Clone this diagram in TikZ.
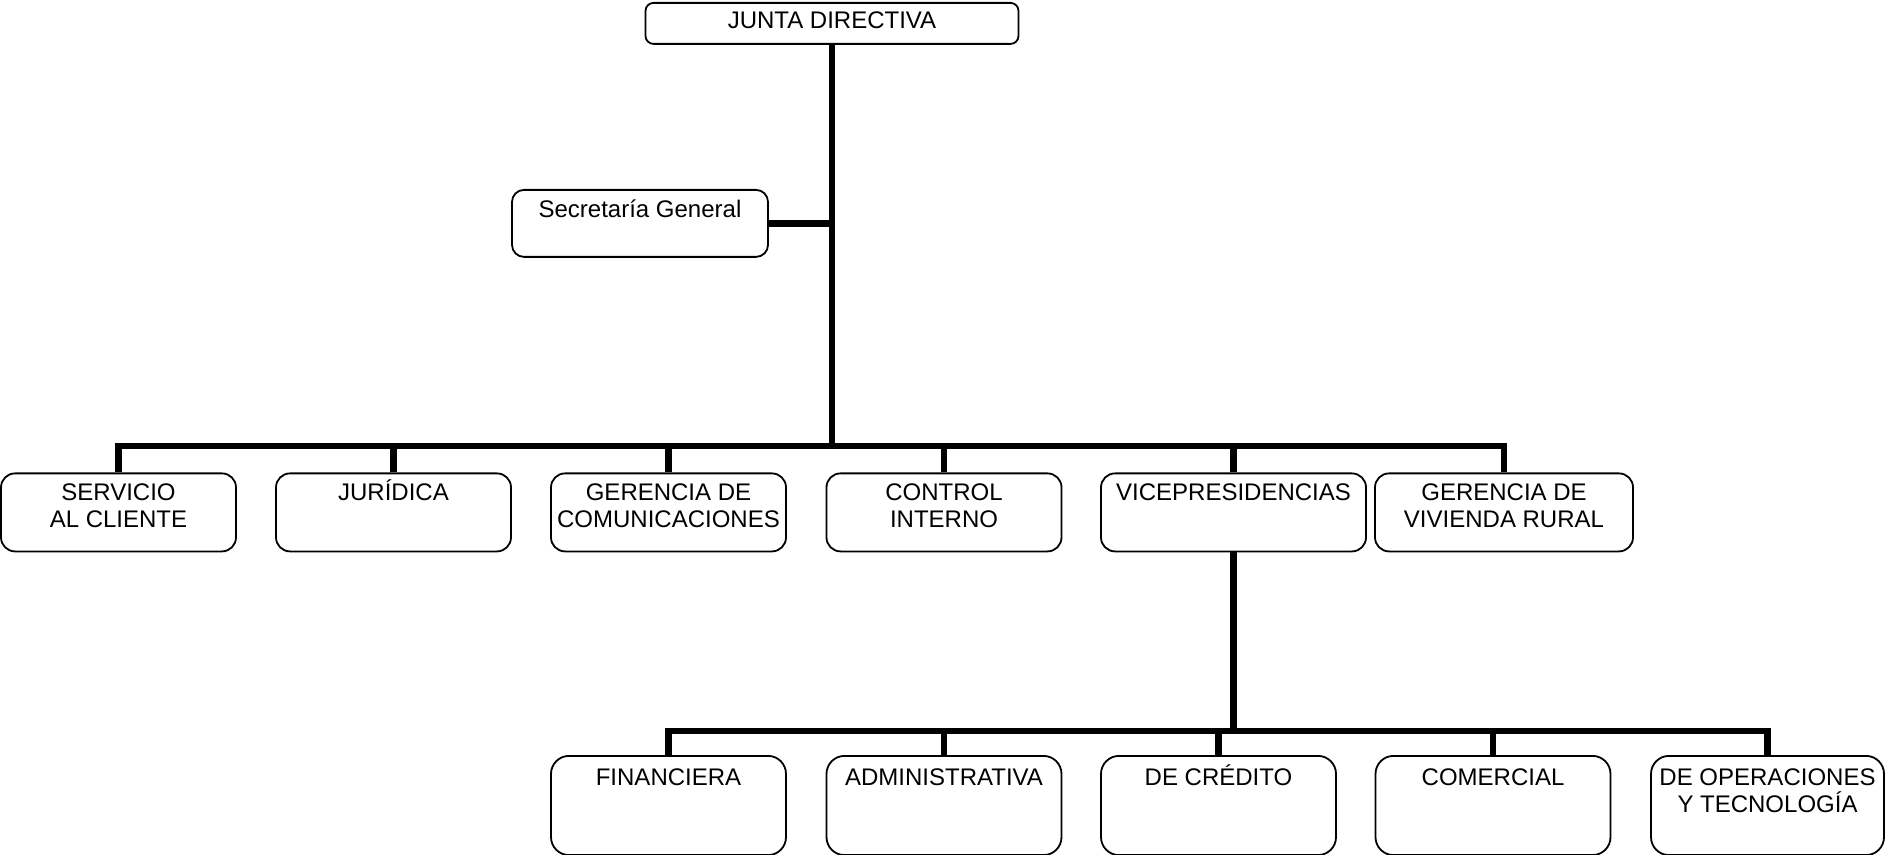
\documentclass[tikz,border=0pt]{standalone}
\usepackage{fontspec}
\setmainfont{Liberation Sans}
\begin{document}
\begin{tikzpicture}[x=0.5pt, y=-0.5pt,
		unit/.style={draw, line width=0.9pt, inner sep=0pt, anchor=north, align=center, font=\fontsize{12}{13.2}\selectfont},
		headbox/.style={unit, minimum width=186.5pt, text height=12.85pt, text depth=7.65pt, rounded corners=4pt},
		sidebox/.style={unit, minimum width=128pt, text height=13.75pt, text depth=19.75pt, rounded corners=6pt},
		areabox/.style={unit, minimum width=117.5pt, text height=13.75pt, text depth=25.25pt, rounded corners=7pt},
		areabox2/.style={areabox, text height=26.95pt, text depth=12.05pt},
		vpbox/.style={unit, minimum width=117.5pt, text height=15pt, text depth=34.6pt, rounded corners=9pt},
		vpbox2/.style={vpbox, text height=28.2pt, text depth=21.4pt},
		link/.style={line width=3.2pt}]
		\useasboundingbox (0,0) rectangle (1885,855);

		% Boxes
		\node[headbox] (junta) at (832,2) {JUNTA DIRECTIVA};
		\node[sidebox] (secretaria) at (640,189) {Secretaría General};

		\node[areabox2] (servicio) at (118.5,472.5) {SERVICIO\\AL CLIENTE};
		\node[areabox] (juridica) at (393.5,472.5) {JURÍDICA};
		\node[areabox2] (comunicaciones) at (668.5,472.5) {GERENCIA DE\\COMUNICACIONES};
		\node[areabox2] (control) at (944,472.5) {CONTROL\\INTERNO};
		\node[areabox, minimum width=132.5pt] (vicepres) at (1233.5,472.5) {VICEPRESIDENCIAS};
		\node[areabox2, minimum width=129pt] (vivienda) at (1504,472.5) {GERENCIA DE\\VIVIENDA RURAL};

		\node[vpbox] (financiera) at (668.5,755) {FINANCIERA};
		\node[vpbox] (administrativa) at (944,755) {ADMINISTRATIVA};
		\node[vpbox] (credito) at (1218.5,755) {DE CRÉDITO};
		\node[vpbox] (comercial) at (1493,755) {COMERCIAL};
		\node[vpbox2, minimum width=116.5pt] (operaciones) at (1767.5,755) {DE OPERACIONES\\Y TECNOLOGÍA};

		% Lines
		\coordinate (bar1) at (832,446);
		\coordinate (bar2) at (1233.5,731);
		\draw[link] (junta.south) -- (bar1);
		\draw[link] (secretaria.east) -- (secretaria.east -| junta.south);
		\draw[link] (servicio.north) |- (vivienda.north |- bar1) -- (vivienda.north);
		\foreach \n in {juridica, comunicaciones, control, vicepres}
			\draw[link] (\n.north) -- (\n.north |- bar1);
		\draw[link] (vicepres.south) -- (bar2);
		\draw[link] (financiera.north) |- (operaciones.north |- bar2) -- (operaciones.north);
		\foreach \n in {administrativa, credito, comercial}
			\draw[link] (\n.north) -- (\n.north |- bar2);
	\end{tikzpicture}
\end{document}
